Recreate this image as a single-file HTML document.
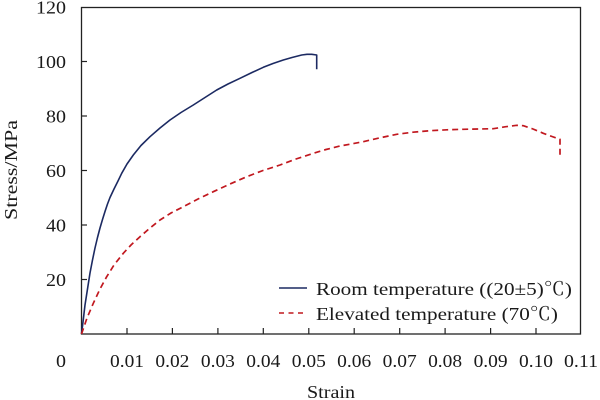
<!DOCTYPE html>
<html><head><meta charset="utf-8"><style>
html,body{margin:0;padding:0;background:#fff;}
svg{display:block;}
</style></head><body>
<svg width="600" height="400" viewBox="0 0 600 400" xmlns="http://www.w3.org/2000/svg" font-family="Liberation Serif, Times New Roman, Times, serif" fill="#1a1a1a">
<rect width="600" height="400" fill="#fff"/>
<rect x="81.5" y="7.5" width="499" height="326.5" fill="none" stroke="#222" stroke-width="1.3"/>
<g stroke="#222" stroke-width="1.2">
<line x1="81.5" y1="279.5" x2="87" y2="279.5"/>
<line x1="81.5" y1="225" x2="87" y2="225"/>
<line x1="81.5" y1="170.5" x2="87" y2="170.5"/>
<line x1="81.5" y1="116" x2="87" y2="116"/>
<line x1="81.5" y1="61.5" x2="87" y2="61.5"/>
<line x1="127" y1="334" x2="127" y2="328"/>
<line x1="172.4" y1="334" x2="172.4" y2="328"/>
<line x1="217.9" y1="334" x2="217.9" y2="328"/>
<line x1="263.3" y1="334" x2="263.3" y2="328"/>
<line x1="308.8" y1="334" x2="308.8" y2="328"/>
<line x1="354.2" y1="334" x2="354.2" y2="328"/>
<line x1="399.7" y1="334" x2="399.7" y2="328"/>
<line x1="445.1" y1="334" x2="445.1" y2="328"/>
<line x1="490.6" y1="334" x2="490.6" y2="328"/>
<line x1="536" y1="334" x2="536" y2="328"/>
</g>
<g font-size="18" text-anchor="end">
<text x="66" y="13.5" textLength="30" lengthAdjust="spacingAndGlyphs">120</text>
<text x="66" y="68" textLength="30" lengthAdjust="spacingAndGlyphs">100</text>
<text x="66" y="122.5" textLength="20" lengthAdjust="spacingAndGlyphs">80</text>
<text x="66" y="177" textLength="20" lengthAdjust="spacingAndGlyphs">60</text>
<text x="66" y="231.5" textLength="20" lengthAdjust="spacingAndGlyphs">40</text>
<text x="66" y="286" textLength="20" lengthAdjust="spacingAndGlyphs">20</text>
</g>
<g font-size="18" text-anchor="middle">
<text x="61" y="367" textLength="10" lengthAdjust="spacingAndGlyphs">0</text>
<text x="127" y="367" textLength="34" lengthAdjust="spacingAndGlyphs">0.01</text>
<text x="172.4" y="367" textLength="34" lengthAdjust="spacingAndGlyphs">0.02</text>
<text x="217.9" y="367" textLength="34" lengthAdjust="spacingAndGlyphs">0.03</text>
<text x="263.3" y="367" textLength="34" lengthAdjust="spacingAndGlyphs">0.04</text>
<text x="308.8" y="367" textLength="34" lengthAdjust="spacingAndGlyphs">0.05</text>
<text x="354.2" y="367" textLength="34" lengthAdjust="spacingAndGlyphs">0.06</text>
<text x="399.7" y="367" textLength="34" lengthAdjust="spacingAndGlyphs">0.07</text>
<text x="445.1" y="367" textLength="34" lengthAdjust="spacingAndGlyphs">0.08</text>
<text x="490.6" y="367" textLength="34" lengthAdjust="spacingAndGlyphs">0.09</text>
<text x="536" y="367" textLength="34" lengthAdjust="spacingAndGlyphs">0.10</text>
<text x="581" y="367" textLength="34" lengthAdjust="spacingAndGlyphs">0.11</text>
</g>
<text x="307" y="398" font-size="18" textLength="48" lengthAdjust="spacingAndGlyphs">Strain</text>
<text transform="translate(17,170) rotate(-90)" font-size="18" text-anchor="middle" textLength="100" lengthAdjust="spacingAndGlyphs">Stress/MPa</text>

<polyline fill="none" stroke="#1c2a62" stroke-width="1.6" stroke-linejoin="round" points="81.5,334 83,322 85,305 87.5,289 90,273 92.5,260 95,248 97.5,237.5 100,228 102.5,219.5 105,211.5 107.5,204 110,197.5 114,189 118,181 121.7,173.3 127,164 133.3,155 141,145.5 150,136.7 160,128 170,120 181,112.5 193.3,105 205,97.5 216.7,90 228,84 240,78.3 252,72.5 263.3,67.3 273,63.5 283.3,60 292,57.5 301.7,55 307,54.3 311.7,54.3 316.7,55 316.7,69.3"/>

<polyline fill="none" stroke="#c1181f" stroke-width="1.7" stroke-dasharray="6,4" stroke-linejoin="round" points="81.5,334 87,318 93.3,303.3 100,289 106.7,276.7 114,265 123.3,253.3 131,245 140,236.7 150,228 160,220 171,213 183.3,206.7 198,199 213.3,191.7 230,184 246.7,176.7 263,170.5 280,165 296,159 313.3,153.3 326,149.5 340,146 351,144 363.3,141.7 380,137.8 396.7,134.3 413,132.2 430,130.7 447,129.8 463.3,129.3 478,129 493.3,128.7 505,126.8 516.7,125.3 523.3,125.7 533,129 543.3,133.3 552,136.5 560,139.3 560,155"/>

<line x1="279" y1="288" x2="307" y2="288" stroke="#1c2a62" stroke-width="1.5"/>
<line x1="279" y1="313" x2="307" y2="313" stroke="#c1181f" stroke-width="1.5" stroke-dasharray="5,4.5"/>
<text x="316" y="295" font-size="18" textLength="256" lengthAdjust="spacingAndGlyphs">Room temperature ((20±5)<tspan font-family="Noto Serif CJK SC, Noto Sans CJK SC, serif">℃</tspan>)</text>
<text x="316" y="320" font-size="18" textLength="242" lengthAdjust="spacingAndGlyphs">Elevated temperature (70<tspan font-family="Noto Serif CJK SC, Noto Sans CJK SC, serif">℃</tspan>)</text>
</svg>
</body></html>
